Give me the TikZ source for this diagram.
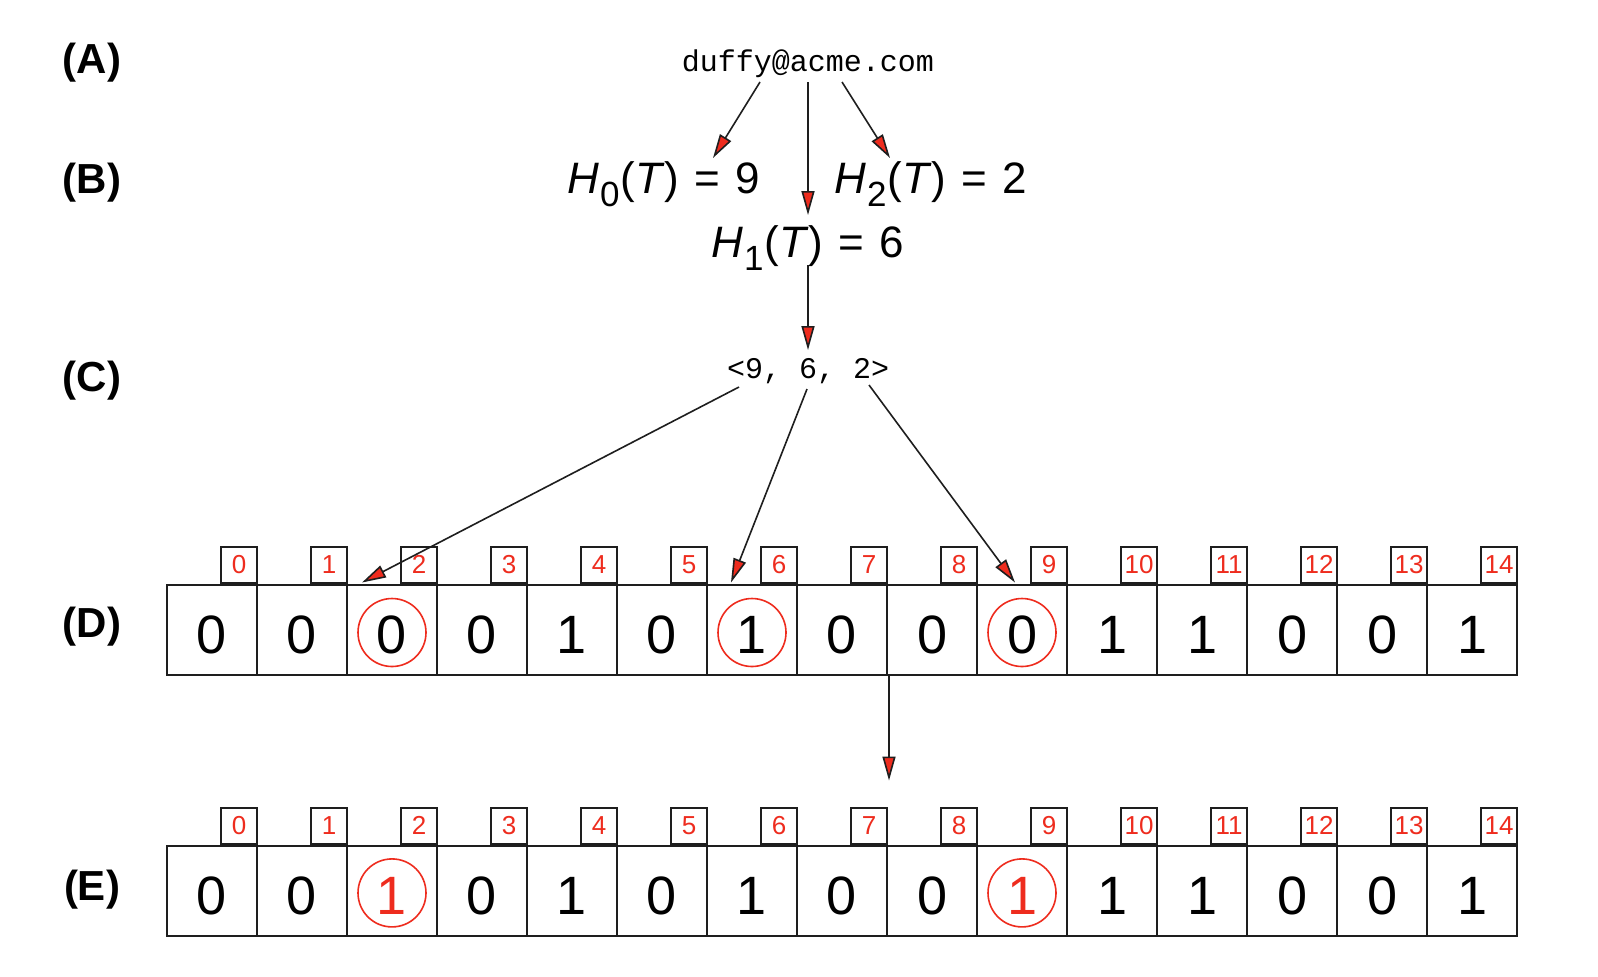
\documentclass[tikz,border=0pt]{standalone}
\usepackage{fontspec}
\setmainfont{Liberation Sans}
\newfontfamily\monofont{Liberation Mono}
\usetikzlibrary{arrows.meta,calc}
\definecolor{rd}{RGB}{238,44,30}
\definecolor{ln}{RGB}{30,30,30}
\newcommand{\hexp}[2]{\textit{H}\kern0.5pt\raisebox{-6.5pt}{\fontsize{17.5}{17.5}\selectfont #1}\kern0.5pt(\textit{T})\hspace{7.5pt}=\hspace{7.5pt}#2}
\begin{document}
\begin{tikzpicture}[x=0.5pt,y=-0.5pt,
  cell/.style={draw=ln,line width=1pt,minimum width=45pt,minimum height=45pt,inner sep=0pt,
    font=\fontsize{27}{27}\selectfont,text height=23.5pt,text depth=0pt},
  idxbox/.style={draw=ln,line width=1pt,minimum width=18pt,minimum height=18pt,inner sep=0pt,
    text=rd,font=\fontsize{13}{13}\selectfont,anchor=south east},
  ring/.style={draw=rd,line width=0.8pt,circle,minimum size=34pt,inner sep=0pt},
  arr/.style={draw=ln,line width=0.8pt,-{Triangle[length=12pt,width=6.5pt,fill=rd]}},
  lbl/.style={font=\fontsize{21}{21}\selectfont\bfseries,inner sep=0pt},
  mono/.style={font=\fontsize{15}{15}\selectfont\monofont,inner sep=0pt,anchor=base},
  hx/.style={font=\fontsize{22}{22}\selectfont,inner sep=0pt,anchor=base}]
\fill[white] (0,0) rectangle (1598,976);
\path[use as bounding box] (0,0) rectangle (1598,976);

% row labels
\node[lbl] (lA) at (92,63) {(A)};
\node[lbl] (lB) at (92,183) {(B)};
\node[lbl] (lC) at (92,381) {(C)};
\node[lbl] (lD) at (92,627) {(D)};
\node[lbl] (lE) at (92,890) {(E)};

% texts
\node[mono] (a) at (808,71) {duffy@acme.com};
\node[hx] (h0) at (663.5,193) {\hexp{0}{9}};
\node[hx] (h2) at (930.5,193) {\hexp{2}{2}};
\node[hx] (h1) at (807.5,257) {\hexp{1}{6}};
\node[mono] (c) at (808,378) {<9, 6, 2>};

% row D
\foreach \v [count=\i from 0] in {0,0,0,0,1,0,1,0,0,0,1,1,0,0,1} {
  \node[cell] (d\i) at ({212+90*\i},629.5) {\v};
  \node[idxbox] (di\i) at (d\i.north east) {\i};
}
% row E
\foreach \v [count=\i from 0] in {0,0,{\color{rd}1},0,1,0,1,0,0,{\color{rd}1},1,1,0,0,1} {
  \node[cell] (e\i) at ({212+90*\i},890.5) {\v};
  \node[idxbox] (ei\i) at (e\i.north east) {\i};
}

% rings
\node[ring] (rd2) at ([yshift=-1.5pt]d2.center) {};
\node[ring] (rd6) at ([yshift=-1.5pt]d6.center) {};
\node[ring] (rd9) at ([yshift=-1.5pt]d9.center) {};
\node[ring] (re2) at ([yshift=-1.2pt]e2.center) {};
\node[ring] (re9) at ([yshift=-1.2pt]e9.center) {};

% arrows A -> B
\draw[arr] ([xshift=-24pt,yshift=-5.5pt]a.base) -- ([xshift=24.75pt,yshift=17.5pt]h0.base);
\draw[arr] ([yshift=-5.5pt]a.base) -- ([xshift=0.25pt,yshift=21pt]h1.base);
\draw[arr] ([xshift=17pt,yshift=-5.5pt]a.base) -- ([xshift=-20.25pt,yshift=17.5pt]h2.base);
% B -> C
\draw[arr] ([xshift=0.25pt,yshift=-4pt]h1.base) -- ([yshift=14pt]c.base);
% C -> D
\draw[arr] ([xshift=-34.5pt,yshift=-4.5pt]c.base) -- ([xshift=8pt,yshift=0.5pt]d2.north west);
\draw[arr] ([xshift=-0.5pt,yshift=-5.5pt]c.base) -- ([xshift=12.5pt,yshift=0.5pt]d6.north west);
\draw[arr] ([xshift=30.5pt,yshift=-3.5pt]c.base) -- ([xshift=-3.5pt,yshift=0.5pt]d9.north);
% D -> E
\draw[arr] ([xshift=0.5pt]d7.south east) -- ([xshift=0.5pt,yshift=-52.5pt]d7.south east);
\end{tikzpicture}
\end{document}
